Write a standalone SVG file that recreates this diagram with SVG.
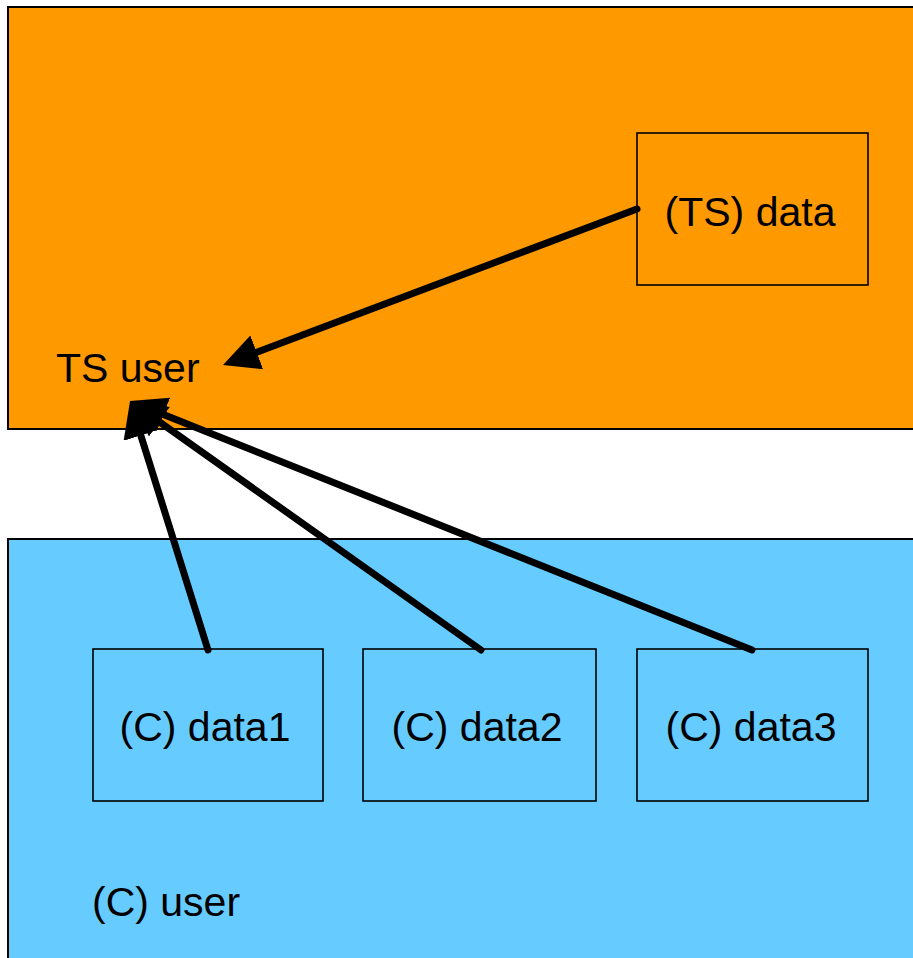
<svg xmlns="http://www.w3.org/2000/svg" width="913" height="958" viewBox="0 0 913 958">
  <style>
    .zone { stroke: #000; stroke-width: 2; }
    .ts { fill: #FF9900; }
    .c { fill: #66CCFF; }
    .box { stroke: #000; stroke-width: 1.6; }
    text { font-family: "Liberation Sans", Arial, sans-serif; font-size: 41px; fill: #000; }
    .mid { text-anchor: middle; }
    .link { stroke: #000; stroke-width: 7; stroke-linecap: round; fill: none; }
  </style>
  <defs>
    <!-- Arrowhead sits beyond the line end: the line stops at the head's base -->
    <marker id="head" viewBox="0 0 36 36" refX="0" refY="18" markerWidth="36" markerHeight="36" markerUnits="userSpaceOnUse" orient="auto">
      <path d="M0,0 L36,18 L0,36 Z" fill="#000"/>
    </marker>
  </defs>

  <rect width="913" height="958" fill="#fff"/>

  <!-- Top secret zone -->
  <g id="zone-ts">
    <rect class="zone ts" x="8" y="7" width="915" height="422"/>
    <text x="56" y="382">TS user</text>
  </g>

  <!-- Confidential zone -->
  <g id="zone-c">
    <rect class="zone c" x="8" y="539" width="915" height="430"/>
    <text x="92" y="916">(C) user</text>
  </g>

  <g id="ts-data">
    <rect class="box ts" x="637" y="133" width="231" height="152"/>
    <text class="mid" x="750" y="226">(TS) data</text>
  </g>

  <g id="c-data1">
    <rect class="box c" x="93" y="649" width="230" height="152"/>
    <text class="mid" x="205" y="741">(C) data1</text>
  </g>

  <g id="c-data2">
    <rect class="box c" x="363" y="649" width="233" height="152"/>
    <text class="mid" x="477" y="741">(C) data2</text>
  </g>

  <g id="c-data3">
    <rect class="box c" x="637" y="649" width="231" height="152"/>
    <text class="mid" x="751" y="741">(C) data3</text>
  </g>

  <!-- Read flows into the TS user -->
  <g id="connectors">
    <line class="link" x1="637" y1="209" x2="256.7" y2="352.3" marker-end="url(#head)"/>
    <line class="link" x1="752" y1="650" x2="163.4" y2="414.4" marker-end="url(#head)"/>
    <line class="link" x1="481" y1="650" x2="159.4" y2="421.8" marker-end="url(#head)"/>
    <line class="link" x1="208" y1="650" x2="140.8" y2="435.4" marker-end="url(#head)"/>
  </g>
</svg>
